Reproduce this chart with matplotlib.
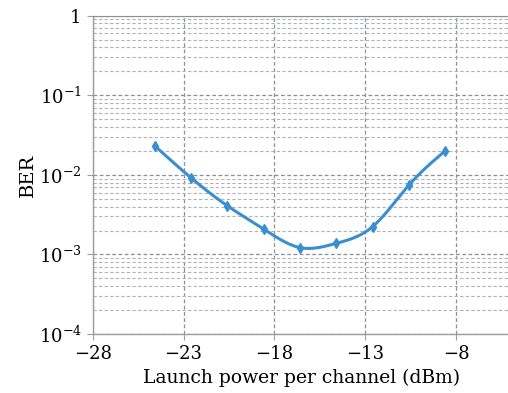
import numpy as np
import matplotlib
matplotlib.use("Agg")
import matplotlib.pyplot as plt
from matplotlib.ticker import LogLocator, FixedLocator, NullFormatter

# Data
power_dbm = [-24.6, -22.6, -20.6, -18.6, -16.6, -14.6, -12.6, -10.6, -8.6]
ber = [0.0233, 0.00922, 0.0041, 0.00209, 0.00122, 0.00138, 0.00224, 0.00746, 0.0201]
x_ticks = [-28, -23, -18, -13, -8]
y_ticks = [1e-4, 1e-3, 1e-2, 1e-1, 1]
y_tick_labels = [r"$10^{-4}$", r"$10^{-3}$", r"$10^{-2}$", r"$10^{-1}$", "1"]


def natural_spline(x, y, xs):
    x = np.asarray(x, float); y = np.asarray(y, float)
    n = len(x)
    h = np.diff(x)
    A = np.zeros((n, n)); b = np.zeros(n)
    A[0, 0] = 1; A[-1, -1] = 1
    for i in range(1, n - 1):
        A[i, i - 1] = h[i - 1]
        A[i, i] = 2 * (h[i - 1] + h[i])
        A[i, i + 1] = h[i]
        b[i] = 3 * ((y[i + 1] - y[i]) / h[i] - (y[i] - y[i - 1]) / h[i - 1])
    c = np.linalg.solve(A, b)
    out = np.empty_like(xs)
    for k, xv in enumerate(xs):
        i = min(max(np.searchsorted(x, xv) - 1, 0), n - 2)
        dx = xv - x[i]
        bi = (y[i + 1] - y[i]) / h[i] - h[i] * (2 * c[i] + c[i + 1]) / 3
        di = (c[i + 1] - c[i]) / (3 * h[i])
        out[k] = y[i] + bi * dx + c[i] * dx ** 2 + di * dx ** 3
    return out


plt.rcParams['font.family'] = ['DejaVu Serif']
plt.rcParams['mathtext.fontset'] = 'dejavuserif'

fig = plt.figure(figsize=(5.08, 3.93), dpi=100)
ax = fig.add_axes([0.1825, 0.150, 0.823, 0.81])

xs = np.linspace(power_dbm[0], power_dbm[-1], 300)
ys = 10 ** natural_spline(power_dbm, np.log10(ber), xs)
color = "#3a8fd0"
ax.plot(xs, ys, color=color, lw=2.2, zorder=3)
ax.plot(power_dbm, ber, linestyle="none", marker="d", ms=5.5, color=color, zorder=4)

ax.set_yscale("log")
ax.set_xlim(-28, -5)
ax.set_ylim(1e-4, 1)
ax.xaxis.set_major_locator(FixedLocator(x_ticks))
ax.set_yticks(y_ticks)
ax.set_yticklabels(y_tick_labels)
ax.yaxis.set_minor_locator(LogLocator(base=10, subs=np.arange(2, 10)))
ax.yaxis.set_minor_formatter(NullFormatter())
ax.set_xticklabels([f"\u2212{abs(t)}" for t in x_ticks])

ax.grid(True, which="major", axis="both", color="#8c8f93", linestyle="--", lw=0.9, dashes=(3, 2))
ax.grid(True, which="minor", axis="y", color="#b0b3b7", linestyle="--", lw=0.8, dashes=(3, 2))

ax.spines["right"].set_visible(False)
ax.spines["top"].set_color("#8c8f93")
for s in ["left", "bottom"]:
    ax.spines[s].set_color("#9a9ea3")
    ax.spines[s].set_linewidth(1.0)

ax.tick_params(which="major", direction="out", length=4, color="#9a9ea3", labelsize=13, pad=4)
ax.tick_params(which="minor", length=0)

ax.set_xlabel("Launch power per channel (dBm)", fontsize=13.5, labelpad=4)
ax.set_ylabel("BER", fontsize=14, labelpad=1)

fig.savefig("out.png", dpi=100)
